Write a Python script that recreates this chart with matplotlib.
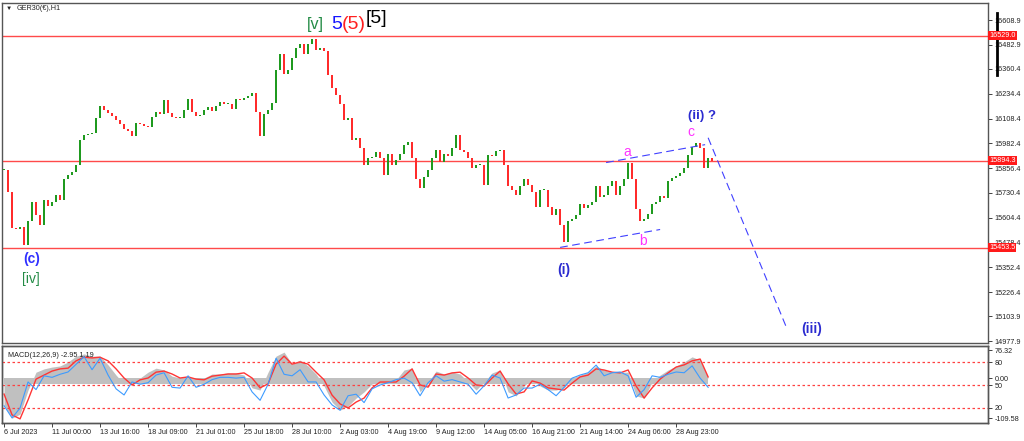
import numpy as np
import matplotlib
matplotlib.use("Agg")
import matplotlib.pyplot as plt

plt.rcParams['font.family'] = ['Liberation Sans', 'DejaVu Sans']

# closes of the GER30 H1 chart, one value per ~5 hourly bars
closes = [
    15849, 15733, 15555, 15545, 15560, 15465, 15586, 15687, 15621, 15570,
    15697, 15662, 15687, 15722, 15697, 15799, 15824, 15839, 15875, 16001,
    16026, 16031, 16036, 16112, 16173, 16153, 16138, 16122, 16102, 16082,
    16057, 16047, 16021, 16087, 16082, 16072, 16067, 16117, 16143, 16133,
    16204, 16138, 16117, 16112, 16112, 16153, 16209, 16143, 16122, 16128,
    16153, 16168, 16148, 16173, 16194, 16183, 16183, 16158, 16209, 16204,
    16214, 16224, 16239, 16143, 16021, 16133, 16153, 16189, 16356, 16437,
    16336, 16356, 16417, 16467, 16487, 16437, 16487, 16515, 16457, 16467,
    16452, 16330, 16264, 16229, 16183, 16102, 16112, 16001, 16011, 15960,
    15875, 15910, 15915, 15940, 15910, 15824, 15930, 15875, 15900, 15930,
    15976, 15991, 15910, 15799, 15758, 15814, 15849, 15910, 15950, 15890,
    15930, 15920, 15960, 16026, 15950, 15940, 15910, 15859, 15875, 15875,
    15773, 15925, 15920, 15945, 15950, 15875, 15768, 15748, 15722, 15768,
    15799, 15773, 15738, 15657, 15748, 15748, 15657, 15621, 15647, 15570,
    15480, 15586, 15596, 15621, 15672, 15652, 15667, 15687, 15768, 15712,
    15722, 15768, 15789, 15722, 15768, 15799, 15885, 15799, 15647, 15586,
    15596, 15626, 15672, 15687, 15717, 15707, 15789, 15809, 15819, 15834,
    15859, 15925, 15966, 15986, 15960, 15859, 15910, 15895,
]

# MACD panel, one value per two candles above
macd_hist = [
    -74, -110, -99, -33, 16, 25, 30, 33, 44, 60,
    66, 60, 60, 36, 8, -16, -14, 0, 16, 27,
    22, 5, 0, 5, -5, 0, 11, 11, 14, 14,
    8, -27, -33, 16, 60, 71, 38, 49, 33, 11,
    -22, -66, -88, -77, -55, -38, -16, -5, -11, -5,
    22, 27, -38, -11, 19, 11, 16, 11, -11, -33,
    -11, 14, 22, -38, -49, -22, 0, -22, -33, -33,
    -27, 0, 8, 16, 33, 22, 16, 16, 16, -49,
    -55, -11, 8, 22, 33, 44, 58, 49, 0,
]
macd_signal = [
    -44, -101, -112, -60, -3, 8, 19, 25, 27, 47,
    57, 55, 57, 47, 25, 0, -19, -5, 0, 16,
    19, 11, 0, 3, -3, -5, 5, 8, 11, 11,
    14, 0, -27, -16, 38, 60, 38, 44, 38, 16,
    -5, -47, -71, -82, -66, -55, -27, -11, -11, -11,
    5, 25, -19, -25, 11, 8, 14, 16, 0, -19,
    -22, 0, 19, -16, -44, -38, -8, -14, -27, -30,
    -33, -14, 3, 8, 25, 22, 16, 14, 22, -22,
    -55, -27, -3, 14, 30, 36, 47, 52, 3,
]
osc_blue = [
    23, 7, 20, 54, 44, 62, 60, 64, 67, 77,
    87, 70, 85, 63, 45, 37, 54, 51, 53, 63,
    66, 47, 46, 62, 47, 51, 57, 60, 60, 59,
    60, 41, 30, 51, 85, 64, 62, 70, 54, 54,
    37, 24, 17, 36, 38, 27, 45, 50, 53, 57,
    59, 53, 36, 53, 62, 55, 57, 54, 51, 38,
    49, 63, 59, 33, 37, 46, 46, 51, 44, 36,
    47, 59, 63, 66, 76, 62, 66, 67, 62, 34,
    44, 62, 60, 64, 67, 66, 75, 59, 47,
]

levels = [16529.0, 15894.3, 15453.5]
price_ticks = [16608.9, 16482.9, 16360.4, 16234.4, 16108.4, 15982.4, 15856.4,
               15730.4, 15604.4, 15478.4, 15352.4, 15226.4, 15103.9, 14977.9]
time_labels = ['6 Jul 2023', '11 Jul 00:00', '13 Jul 16:00', '18 Jul 09:00',
               '21 Jul 01:00', '25 Jul 18:00', '28 Jul 10:00', '2 Aug 03:00',
               '4 Aug 19:00', '9 Aug 12:00', '14 Aug 05:00', '16 Aug 21:00',
               '21 Aug 14:00', '24 Aug 06:00', '28 Aug 23:00']

fig = plt.figure(figsize=(10.24, 4.41), dpi=100)
ax = fig.add_axes([0.002, 0.222, 0.963, 0.771])
axm = fig.add_axes([0.002, 0.0408, 0.963, 0.1746])

# candles
c = np.array(closes, float)
o = np.r_[c[0], c[:-1]]
x = np.arange(len(c))
up = c >= o
ax.bar(x, np.maximum(np.abs(c - o), 4), bottom=np.minimum(o, c), width=0.55,
       color=np.where(up, '#1f9a1f', '#ff2b2b'), linewidth=0, zorder=3)

for lv in levels:
    ax.axhline(lv, color='#ff4a4a', lw=1.0, zorder=2)
    ax.text(1.001, lv, f'{lv:.1f}', transform=ax.get_yaxis_transform(),
            fontsize=5.2, color='white', va='center', ha='left', clip_on=False,
            bbox=dict(boxstyle='square,pad=0.15', fc='#ff1a1a', ec='none'), zorder=6)

# wave channel + projection
dash = dict(color='#4040ff', lw=0.8, ls=(0, (7, 4)), zorder=4)
ax.plot([150.5, 175.25], [15885, 15976], **dash)
ax.plot([139, 164], [15454, 15545], **dash)
ax.plot([176, 195.75], [16011, 15039], **dash)

# wave labels
ax.text(77.75, 16584, '[v]', color='#238b45', fontsize=11.5, ha='center', va='center')
ax.text(83.2, 16584, '5', color='#1515ff', fontsize=14, ha='center', va='center')
ax.text(87.5, 16584, '(5)', color='#ff2020', fontsize=14, ha='center', va='center')
ax.text(93.2, 16615, '[5]', color='black', fontsize=14, ha='center', va='center')
ax.text(174.5, 16123, '(ii) ?', color='#2b2bd0', fontsize=9.5, fontweight='bold',
        ha='center', va='center')
ax.text(201.8, 15039, '(iii)', color='#2b2bd0', fontsize=10, fontweight='bold',
        ha='center', va='center')
ax.text(140, 15338, '(i)', color='#2b2bd0', fontsize=10, fontweight='bold',
        ha='center', va='center')
ax.text(7, 15393, '(c)', color='#3030ff', fontsize=10, fontweight='bold',
        ha='center', va='center')
ax.text(6.8, 15292, '[iv]', color='#238b45', fontsize=10, ha='center', va='center')
ax.text(155.75, 15940, 'a', color='#ff33ff', fontsize=10, ha='center', va='center')
ax.text(159.75, 15485, 'b', color='#ff33ff', fontsize=10, ha='center', va='center')
ax.text(171.75, 16040, 'c', color='#ff33ff', fontsize=10, ha='center', va='center')

ax.plot([1.009, 1.009], [16645, 16330], transform=ax.get_yaxis_transform(),
        color='black', lw=2, clip_on=False)

ax.set_xlim(-0.5, 246)
ax.set_ylim(14968, 16695)
ax.yaxis.tick_right()
ax.set_yticks(price_ticks)
ax.set_yticklabels([f'{t:.1f}' for t in price_ticks])
ax.set_xticks([])

# MACD panel
xm = np.arange(len(macd_hist)) * 2
axm.fill_between(xm, 0, -16.4, color='#c0c0c0', lw=0)
axm.fill_between(xm, macd_hist, 0, color='#c0c0c0', lw=0)
axm.plot(xm, macd_signal, color='#ff3535', lw=1.0, zorder=4)
axm.set_ylim(-123.3, 87.7)
axm.set_xlim(-0.5, 246)

axs = axm.twinx()
axs.plot(xm, osc_blue, color='#3d9bff', lw=0.8, zorder=3)
for lv in [80, 50, 20]:
    axs.axhline(lv, color='#ff4040', lw=0.9, ls=(0, (2, 2)))
axs.set_ylim(0.4, 100.9)
axs.set_yticks([80, 50, 20])
axs.set_yticklabels(['80', '50', '20'])

axm.yaxis.tick_right()
axm.set_yticks([76.32, 0, -109.58])
axm.set_yticklabels(['76.32', '0.00', '-109.58'])

axm.set_xticks(np.arange(len(time_labels)) * 12)
axm.set_xticklabels(time_labels)
for lbl in axm.get_xticklabels():
    lbl.set_ha('left')

for a in (ax, axm, axs):
    for s in a.spines.values():
        s.set_color('#555555')
        s.set_linewidth(1.0)
    a.tick_params(labelsize=5.2, length=3, width=0.6, pad=1.5, colors='#222222')

axm.text(0.006, 0.88, 'MACD(12,26,9) -2.95 1.19', transform=axm.transAxes,
         fontsize=5.2, color='#222222', va='center')
fig.text(0.006, 0.98, '\u25bc', fontsize=4.5, color='#222222', va='center')
fig.text(0.016, 0.98, 'GER30(\u20ac),H1', fontsize=5.2, color='#222222', va='center')

fig.savefig('out.png', dpi=100, facecolor='white')
